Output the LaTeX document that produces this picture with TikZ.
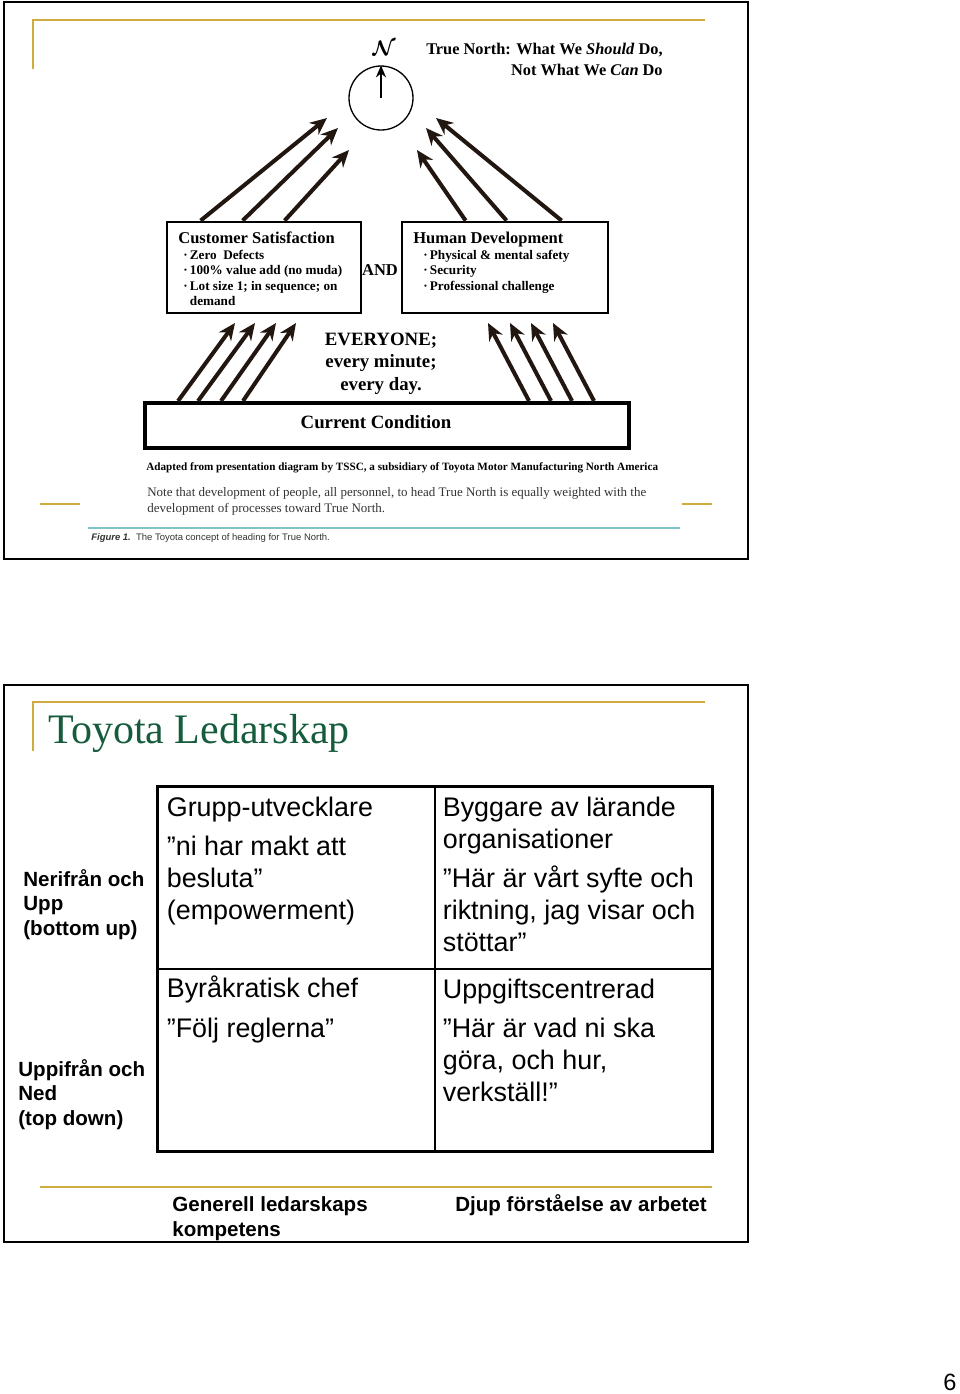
\documentclass[tikz,border=0pt]{standalone}
\usepackage{amsmath}
\usepackage{fontspec}
\setmainfont{Liberation Serif}
\setsansfont{Liberation Sans}
\usetikzlibrary{arrows.meta,positioning,calc}
\definecolor{ldgold}{RGB}{207,172,62}
\definecolor{ldgreen}{RGB}{22,92,60}
\definecolor{ldteal}{RGB}{130,195,195}
\definecolor{arrdark}{RGB}{34,22,16}
\tikzset{
  frm/.style={black, line width=1.2pt},
  gld/.style={ldgold, line width=1.3pt},
  bigarr/.style={-{Stealth[length=3.4mm, width=3mm]}, arrdark, line width=2.3pt},
  cmparr/.style={-{Stealth[length=2.4mm, width=2mm]}, black, line width=1.3pt},
  gbox/.style={draw, line width=1.6pt, inner sep=0pt},
  ghead/.style={anchor=base west, inner sep=0pt, font=\bfseries\fontsize{9.4}{11}\selectfont},
  glist/.style={anchor=base west, inner sep=0pt, align=left, font=\bfseries\fontsize{7.5}{8.8}\selectfont},
  gtxt/.style={inner sep=0pt, font=\bfseries\fontsize{10.7}{12.8}\selectfont},
  cell/.style={draw, line width=0.6pt, minimum width=5.54cm, minimum height=3.64cm, inner sep=0pt},
  celltxt/.style={anchor=base west, align=left, inner sep=0pt, font=\sffamily\fontsize{15.3}{18.2}\selectfont},
  sidelbl/.style={anchor=base west, align=left, inner sep=0pt, font=\sffamily\bfseries\fontsize{11.7}{13.9}\selectfont},
}

\begin{document}
\begin{tikzpicture}[x=0.02cm, y=-0.02cm]
  \useasboundingbox (0,0) rectangle (960,1394);
  % upper slide
  \begin{scope}
    \draw[frm] (4,2) rectangle (748,559);
    \draw[gld] (33,69) |- (705,20);
    \draw[gld] (40,504) -- (80,504);
    \draw[gld] (682,504) -- (712,504);
    \draw[ldteal, line width=0.9pt] (88,528) -- (680,528);

    \node[circle, draw, line width=0.75pt, minimum size=1.28cm, inner sep=0pt] (tn) at (381,98) {};
    \draw[cmparr] (tn.center) -- (tn.north);
    \node[inner sep=0pt, font=\fontsize{12}{14}\selectfont] (nn) at (384,48) {$\boldsymbol{\mathcal{N}}$};
    \node[anchor=base east, align=right, inner sep=0pt, font=\bfseries\fontsize{9.3}{11.4}\selectfont] (tq) at (663,75)
      {True North: What We \textit{Should} Do,\\ Not What We \textit{Can} Do};

    \node[gbox, minimum width=3.88cm, minimum height=1.82cm] (cs) at (264,267.5) {};
    \node[gbox, minimum width=4.12cm, minimum height=1.82cm] (hd) at (505,267.5) {};
    \node[ghead] (cst) at (178,243) {Customer Satisfaction};
    \node[glist] (csl) at (183,305.5)
      {·\,Zero\ \ Defects\\ ·\,100\% value add (no muda)\\ ·\,Lot size 1; in sequence; on\\ \phantom{·\,}demand};
    \node[ghead] (hdt) at (413,243) {Human Development};
    \node[glist] (hdl) at (423,290)
      {·\,Physical \& mental safety\\ ·\,Security\\ ·\,Professional challenge};
    \node[ghead, anchor=center] (and) at (380,270) {AND};

    \foreach \dx/\ex/\ey [count=\i] in {35/327/118, 77/338/128, 119/349/150} {
      \coordinate (cn\i) at (\ex,\ey);
      \draw[bigarr] ($(cs.north west)+(\dx,0)$) -- (cn\i);
    }
    \foreach \dx/\ex/\ey [count=\i] in {65/417/150, 106/426/128, 161/436/118} {
      \coordinate (hn\i) at (\ex,\ey);
      \draw[bigarr] ($(hd.north west)+(\dx,0)$) -- (hn\i);
    }

    \node[gtxt, anchor=base, align=center] (ev) at (381,390) {EVERYONE;\\ every minute;\\ every day.};
    \node[draw, line width=2.3pt, minimum width=9.68cm, minimum height=0.9cm, inner sep=0pt] (cc) at (387,425.5) {};
    \node[gtxt, anchor=base] (cct) at (376,428) {Current Condition};

    \foreach \dx/\ex [count=\i] in {35/235, 55/255, 78/276, 100/296} {
      \coordinate (cl\i) at (\ex,323);
      \draw[bigarr] ($(cc.north west)+(\dx,0)$) -- (cl\i);
    }
    \foreach \dx/\ex [count=\i] in {386/488, 408/510, 429/531, 451/553} {
      \coordinate (cr\i) at (\ex,323);
      \draw[bigarr] ($(cc.north west)+(\dx,0)$) -- (cr\i);
    }

    \node[anchor=base west, inner sep=0pt, font=\bfseries\fontsize{6.35}{7}\selectfont] (adp) at (146,470)
      {Adapted from presentation diagram by TSSC, a subsidiary of Toyota Motor Manufacturing North America};
    \node[anchor=base west, align=left, inner sep=0pt, text=black!80, font=\fontsize{7.4}{8.6}\selectfont] (nte) at (147,512)
      {Note that development of people, all personnel, to head True North is equally weighted with the\\
       development of processes toward True North.};
    \node[anchor=base west, inner sep=0pt, text=black!80, font=\sffamily\fontsize{5.4}{6}\selectfont] (fig) at (91,540)
      {\textbf{\textit{Figure 1.}}\ \ The Toyota concept of heading for True North.};
  \end{scope}

  % lower slide
  \begin{scope}
    \draw[frm] (4,685) rectangle (748,1242);
    \draw[gld] (33,751) |- (705,702);
    \draw[gld] (40,1187) -- (712,1187);
    \node[anchor=base west, inner sep=0pt, text=ldgreen, font=\fontsize{23.9}{28}\selectfont] (ttl) at (48,743) {Toyota Ledarskap};

    \node[cell] (c11) at (296.5,878) {};
    \node[cell] (c12) at (573.5,878) {};
    \node[cell] (c21) at (296.5,1060) {};
    \node[cell] (c22) at (573.5,1060) {};
    \draw[line width=1.7pt] (c11.north west) rectangle (c22.south east);

    \node[celltxt] (t11) at ($(c11.north west)+(9,133)$)
      {Grupp-utvecklare\\[4.3pt] ”ni har makt att\\ besluta”\\ (empowerment)};
    \node[celltxt] (t12) at ($(c12.north west)+(8,165)$)
      {Byggare av lärande\\ organisationer\\[4.3pt] ”Här är vårt syfte och\\ riktning, jag visar och\\ stöttar”};
    \node[celltxt] (t21) at ($(c21.north west)+(9,69)$)
      {Byråkratisk chef\\[4.3pt] ”Följ reglerna”};
    \node[celltxt] (t22) at ($(c22.north west)+(8,133)$)
      {Uppgiftscentrerad\\[4.3pt] ”Här är vad ni ska\\ göra, och hur,\\ verkställ!”};

    \node[sidelbl] (nu) at (23,935) {Nerifrån och\\ Upp\\ (bottom up)};
    \node[sidelbl] (un) at (18,1125) {Uppifrån och\\ Ned\\ (top down)};
    \node[sidelbl] (gl) at (172,1236) {Generell ledarskaps\\ kompetens};
    \node[sidelbl] (dj) at (455,1211) {Djup förståelse av arbetet};
  \end{scope}

  \node[anchor=base, inner sep=0pt, font=\sffamily\fontsize{13.4}{15}\selectfont] (pg) at (950,1390) {6};
\end{tikzpicture}
\end{document}
